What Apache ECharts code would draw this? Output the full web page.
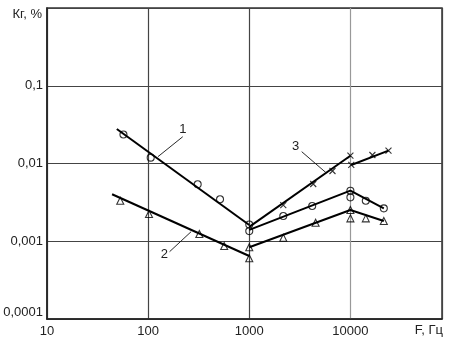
<!DOCTYPE html>
<html>
<head>
<meta charset="utf-8">
<script src="https://cdn.jsdelivr.net/npm/echarts@6/dist/echarts.min.js"></script>
<style>
html,body{margin:0;padding:0;background:#fff;}
#chart{width:450px;height:340px;}
</style>
</head>
<body>
<div id="chart"></div>
<script>
// Tick labels
const xTickExp = [1, 2, 3, 4];
const xTickLabels = ['10', '100', '1000', '10000'];
const yTickExp = [-4, -3, -2, -1];
const yTickLabels = ['0,0001', '0,001', '0,01', '0,1'];
const xName = 'F, Гц';
const yName = 'Кг, %';

// Measured points (markers)
const c1MarkF = [57, 106, 309, 514, 1000, 1000, 2170, 4190, 10000, 10000, 14200, 21400];
const c1MarkK = [0.0236, 0.0119, 0.0054, 0.00347, 0.00164, 0.00135, 0.00211, 0.00284, 0.00447, 0.00367, 0.00332, 0.00265];
const c2MarkF = [53, 102, 321, 565, 1000, 1000, 2170, 4530, 10000, 10000, 14200, 21400];
const c2MarkK = [0.00332, 0.00224, 0.00124, 0.000869, 0.000604, 0.000836, 0.00111, 0.00173, 0.00252, 0.00197, 0.00197, 0.00182];
const c3MarkF = [2170, 4290, 6650, 10000, 10200, 16500, 23800];
const c3MarkK = [0.00292, 0.00545, 0.00801, 0.0126, 0.00957, 0.01286, 0.01462];

// Approximating lines
const line1aF = [49, 1000];
const line1aK = [0.0278, 0.00162];
const line1bF = [1000, 10000, 21400];
const line1bK = [0.0014, 0.00447, 0.00265];
const line2aF = [44, 1000];
const line2aK = [0.00402, 0.000646];
const line2bF = [1000, 10000, 21400];
const line2bK = [0.000836, 0.00252, 0.00182];
const line3bF = [1000, 10000];
const line3bK = [0.00153, 0.0126];
const line3cF = [10200, 23800];
const line3cK = [0.00957, 0.01462];

// Leader lines for curve labels
const curveLabels = ['1', '2', '3'];
const leader1F = [220, 125];
const leader1K = [0.0221, 0.01223];
const leader2F = [163, 266];
const leader2K = [0.000734, 0.001327];
const leader3F = [3300, 5750];
const leader3K = [0.01419, 0.00761];

const FONT = 'Liberation Sans, Arial, sans-serif';
const zip = (a, b) => a.map((v, i) => [v, b[i]]);

function lineSeries(f, k) {
  return {
    type: 'line', data: zip(f, k), symbol: 'none', silent: true,
    lineStyle: { color: '#000', width: 2 }, z: 3
  };
}
function markSeries(f, k, symbol, size) {
  return {
    type: 'scatter', data: zip(f, k), symbol: symbol, symbolSize: size, silent: true,
    itemStyle: { color: 'rgba(0,0,0,0)', borderColor: '#000', borderWidth: 1.1 }, z: 4
  };
}
function leaderSeries(f, k, text, pos, dist, off) {
  const d = zip(f, k);
  return {
    type: 'line', symbol: 'circle', symbolSize: 1, showSymbol: true, silent: true, z: 5,
    itemStyle: { color: 'rgba(0,0,0,0)', borderWidth: 0 },
    lineStyle: { color: '#111', width: 0.9 },
    label: { show: false },
    data: [
      { value: d[0], label: { show: true, formatter: text, position: pos, distance: dist, offset: off,
        color: '#222', fontSize: 13, fontFamily: FONT } },
      d[1]
    ]
  };
}

const chart = echarts.init(document.getElementById('chart'), null, { renderer: 'canvas' });
chart.setOption({
  animation: false,
  backgroundColor: '#fff',
  grid: { left: 47, right: 8, top: 8, bottom: 21, show: true, borderColor: '#333', borderWidth: 1.5, containLabel: false },
  xAxis: {
    type: 'log', logBase: 10, min: 10, max: 80500,
    name: xName, nameLocation: 'end', nameGap: 1,
    nameTextStyle: { color: '#222', fontSize: 13, fontFamily: FONT, align: 'right', verticalAlign: 'top', padding: [5, 0, 0, 0] },
    axisLine: { show: true, lineStyle: { color: '#222', width: 1.5 } },
    axisTick: { show: false },
    axisLabel: {
      color: '#222', fontSize: 13, fontFamily: FONT, margin: 6, showMaxLabel: false,
      formatter: function (v) {
        const e = Math.round(Math.log10(v));
        const i = xTickExp.indexOf(e);
        return (i >= 0 && Math.abs(Math.log10(v) - e) < 1e-6) ? xTickLabels[i] : '';
      }
    },
    splitLine: { show: true, lineStyle: { color: ['#444', '#444', '#444', '#999', '#444'], width: 1.2 } }
  },
  yAxis: {
    type: 'log', logBase: 10, min: 0.0001, max: 1,
    name: yName, nameLocation: 'end', nameGap: -6,
    nameTextStyle: { color: '#222', fontSize: 13, fontFamily: FONT, align: 'right', verticalAlign: 'middle', padding: [0, 5, 0, 0] },
    axisLine: { show: true, lineStyle: { color: '#222', width: 1.5 } },
    axisTick: { show: false },
    axisLabel: {
      color: '#222', fontSize: 13, fontFamily: FONT, margin: 4, verticalAlignMinLabel: 'bottom',
      formatter: function (v) {
        const e = Math.round(Math.log10(v));
        const i = yTickExp.indexOf(e);
        return i >= 0 ? yTickLabels[i] : '';
      }
    },
    splitLine: { show: true, lineStyle: { color: '#444', width: 1.2 } }
  },
  series: [
    lineSeries(line1aF, line1aK),
    lineSeries(line1bF, line1bK),
    lineSeries(line2aF, line2aK),
    lineSeries(line2bF, line2bK),
    lineSeries(line3bF, line3bK),
    lineSeries(line3cF, line3cK),
    markSeries(c1MarkF, c1MarkK, 'circle', 7),
    markSeries(c2MarkF, c2MarkK, 'triangle', 7),
    markSeries(c3MarkF, c3MarkK, 'path://M0,0L10,10M10,0L0,10', 6),
    leaderSeries(leader1F, leader1K, curveLabels[0], 'top', 0, [0, 0]),
    leaderSeries(leader2F, leader2K, curveLabels[1], 'left', 1, [0, 3]),
    leaderSeries(leader3F, leader3K, curveLabels[2], 'left', 2, [0, -5])
  ]
});
</script>
</body>
</html>
